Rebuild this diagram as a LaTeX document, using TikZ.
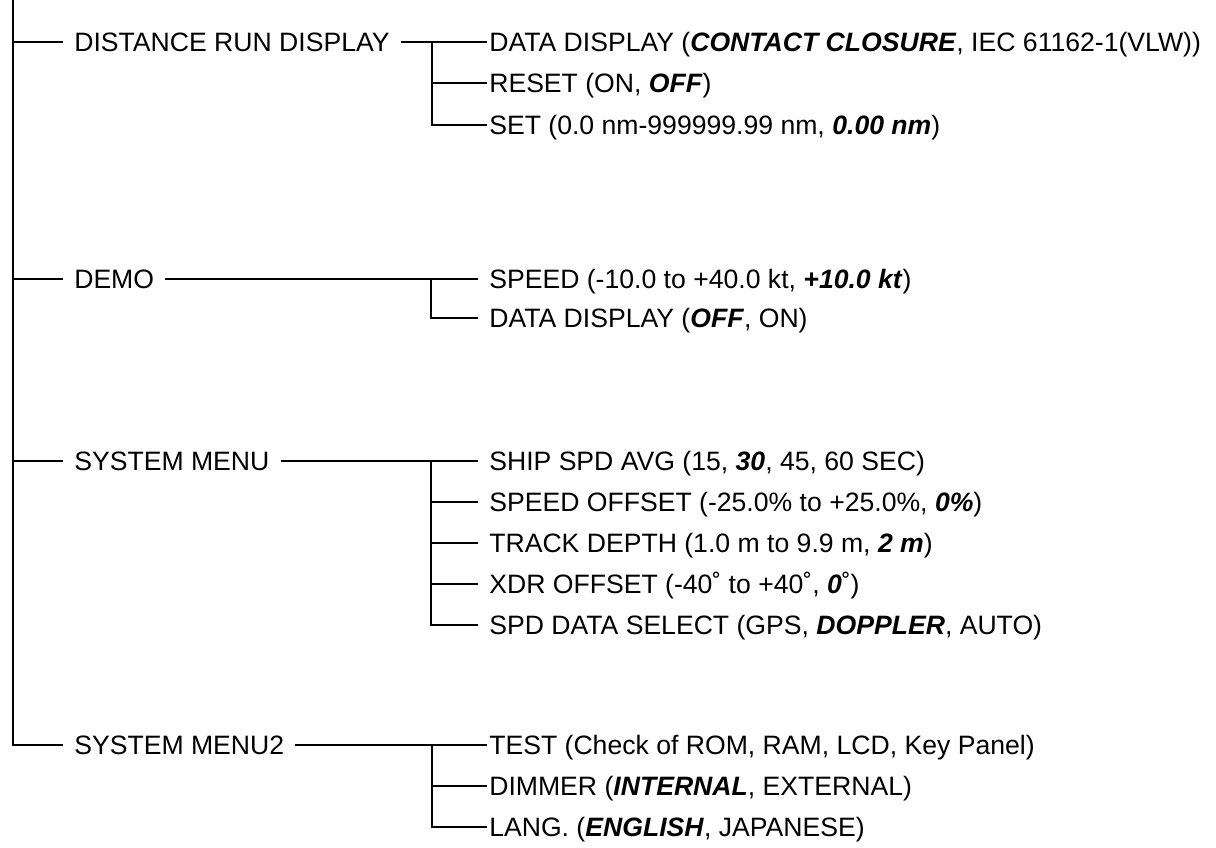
\documentclass[tikz,border=0pt]{standalone}
\usepackage{fontspec}
\setmainfont{Liberation Sans}
\usetikzlibrary{positioning}
\newcommand{\dflt}[1]{\textbf{\textit{#1}}}

\begin{document}
\begin{tikzpicture}[
  x=0.5pt, y=-0.5pt,
  line width=1.3pt,
  font=\fontsize{13.3pt}{15pt}\selectfont,
  menu/.style={anchor=west, inner xsep=5pt, inner ysep=0pt,
               text height=9.5pt, text depth=0pt},
  item/.style={anchor=west, inner xsep=0.5pt, inner ysep=0pt,
               text height=9.5pt, text depth=0pt},
  gap/.style={inner xsep=5pt}
]
\useasboundingbox (0,0) rectangle (1216,847);

% main menu entries
\coordinate (top) at (13,0);
\node[menu] (drd)  at (63,42)  {DISTANCE RUN DISPLAY};
\node[menu] (demo) at (63,279) {DEMO};
\node[menu] (sm)   at (63,461) {SYSTEM MENU};
\node[menu] (sm2)  at (63,745) {SYSTEM MENU2};

\draw (top) |- (sm2.west);
\draw (top |- drd.west) -- (drd.west);
\draw (top |- demo.west) -- (demo.west);
\draw (top |- sm.west) -- (sm.west);

% distance run display
\node[item] (drd1) at (487,42)  {DATA DISPLAY (\dflt{CONTACT CLOSURE}, IEC 61162-1(VLW))};
\node[item] (drd2) at (487,83)  {RESET (ON, \dflt{OFF})};
\node[item] (drd3) at (487,125) {SET (0.0 nm-999999.99 nm, \dflt{0.00 nm})};
\coordinate (jdrd) at (432,42);
\draw (drd.east) -- (drd1.west);
\draw (jdrd) |- (drd3.west);
\draw (jdrd |- drd2.west) -- (drd2.west);

% demo
\node[item, gap] (demo1) at (478,279) {SPEED (-10.0 to +40.0 kt, \dflt{+10.0 kt})};
\node[item, gap] (demo2) at (478,318) {DATA DISPLAY (\dflt{OFF}, ON)};
\coordinate (jdemo) at (431,279);
\draw (demo.east) -- (demo1.west);
\draw (jdemo) |- (demo2.west);

% system menu
\node[item, gap] (sm1) at (478,461) {SHIP SPD AVG (15, \dflt{30}, 45, 60 SEC)};
\node[item, gap] (smb) at (478,502) {SPEED OFFSET (-25.0\% to +25.0\%, \dflt{0\%})};
\node[item, gap] (smc) at (478,543) {TRACK DEPTH (1.0 m to 9.9 m, \dflt{2 m})};
\node[item, gap] (smd) at (478,584) {XDR OFFSET (-40˚ to +40˚, \dflt{0}˚)};
\node[item, gap] (sme) at (478,625) {SPD DATA SELECT (GPS, \dflt{DOPPLER}, AUTO)};
\coordinate (jsm) at (431,461);
\draw (sm.east) -- (sm1.west);
\draw (jsm) |- (sme.west);
\foreach \n in {smb,smc,smd}
  \draw (jsm |- \n.west) -- (\n.west);

% system menu2
\node[item] (sm2a) at (487,745) {TEST (Check of ROM, RAM, LCD, Key Panel)};
\node[item] (sm2b) at (487,786) {DIMMER (\dflt{INTERNAL}, EXTERNAL)};
\node[item] (sm2c) at (487,827) {LANG. (\dflt{ENGLISH}, JAPANESE)};
\coordinate (jsm2) at (432,745);
\draw (sm2.east) -- (sm2a.west);
\draw (jsm2) |- (sm2c.west);
\draw (jsm2 |- sm2b.west) -- (sm2b.west);
\end{tikzpicture}
\end{document}
